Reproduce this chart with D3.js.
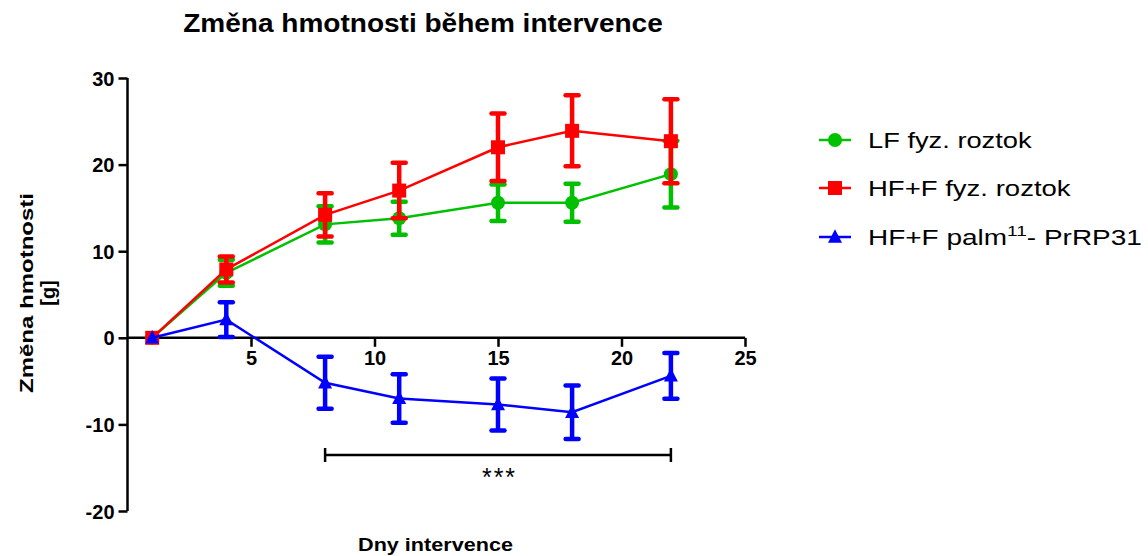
<!DOCTYPE html>
<html>
<head>
<meta charset="utf-8">
<script src="https://cdn.jsdelivr.net/npm/d3@7"></script>
<style>
  body { margin: 0; background: #fff; }
  svg text { font-family: "Liberation Sans", Arial, sans-serif; }
</style>
</head>
<body>
<div id="chart"></div>
<script>
// data
var days = [1, 4, 8, 11, 15, 18, 22];

var lfMean = [0, 7.5, 13.1, 13.8, 15.6, 15.6, 18.9];
var lfErr  = [0, 1.5, 2.1, 1.9, 2.1, 2.2, 3.85];

var hfMean = [0, 7.9, 14.2, 17.0, 22.0, 23.9, 22.7];
var hfErr  = [0, 1.5, 2.5, 3.2, 3.9, 4.1, 4.85];

var palmMean = [0, 2.1, -5.2, -7.0, -7.7, -8.6, -4.4];
var palmErr  = [0, 2.0, 3.0, 2.8, 3.0, 3.1, 2.65];

var xTicks = [5, 10, 15, 20, 25];
var yTicks = [-20, -10, 0, 10, 20, 30];

var seriesNames = ["LF fyz. roztok", "HF+F fyz. roztok", "HF+F palm"];
var seriesColors = ["#00c000", "#ff0000", "#0000ff"];
var seriesShapes = ["circle", "square", "triangle"];

var W = 1148, H = 556;

var svg = d3.select("#chart").append("svg")
    .attr("width", W).attr("height", H);

var x = d3.scaleLinear().domain([0, 25]).range([127.5, 745]);
var y = d3.scaleLinear().domain([-20, 30]).range([511, 78]);

// stretch a text horizontally so it spans the width it has in the picture
function fitWidth(t, target, ax) {
    var w = t.node().getBBox().width;
    var k = target / w;
    t.attr("transform", "translate(" + ax + ",0) scale(" + k + ",1) translate(" + (-ax) + ",0)");
}

// title
var title = svg.append("text")
    .attr("x", 423).attr("y", 32)
    .attr("text-anchor", "middle")
    .style("font-size", "25px").style("font-weight", "bold")
    .text("Změna hmotnosti během intervence");
fitWidth(title, 480, 423);

// y axis
var yAxis = svg.append("g")
    .attr("transform", "translate(" + x(0) + ",0)")
    .call(d3.axisLeft(y).tickValues(yTicks).tickSize(9).tickPadding(4).tickFormat(function (d) { return String(d); }));
yAxis.select(".domain").attr("stroke-width", 2.5).attr("d", "M0," + y(30) + "V" + y(-20));
yAxis.selectAll(".tick line").attr("stroke-width", 2.5);
yAxis.selectAll(".tick text")
    .style("font-family", "'Liberation Sans', Arial, sans-serif")
    .style("font-size", "20px").style("font-weight", "bold").attr("dy", "0.35em");

// x axis at y = 0
var xAxis = svg.append("g")
    .attr("transform", "translate(0," + y(0) + ")")
    .call(d3.axisBottom(x).tickValues(xTicks).tickSize(9).tickPadding(4));
xAxis.select(".domain").attr("stroke-width", 2.5).attr("d", "M" + x(0) + ",0H" + x(25));
xAxis.selectAll(".tick line").attr("stroke-width", 2.5);
xAxis.selectAll(".tick text")
    .style("font-family", "'Liberation Sans', Arial, sans-serif")
    .style("font-size", "20px").style("font-weight", "bold");

// axis titles
var xl = svg.append("text")
    .attr("x", 435.5).attr("y", 551)
    .attr("text-anchor", "middle")
    .style("font-size", "18px").style("font-weight", "bold")
    .text("Dny intervence");
fitWidth(xl, 155, 435.5);

svg.append("text")
    .attr("transform", "translate(33,293) rotate(-90)")
    .attr("text-anchor", "middle")
    .attr("textLength", 200).attr("lengthAdjust", "spacingAndGlyphs")
    .style("font-size", "19px").style("font-weight", "bold")
    .text("Změna hmotnosti");
svg.append("text")
    .attr("transform", "translate(55,293) rotate(-90)")
    .attr("text-anchor", "middle")
    .style("font-size", "20px").style("font-weight", "bold")
    .text("[g]");

function marker(g, shape, color, cx, cy, s) {
    if (shape === "circle") {
        g.append("circle").attr("cx", cx).attr("cy", cy).attr("r", s * 0.5).attr("fill", color);
    } else if (shape === "square") {
        g.append("rect").attr("x", cx - s / 2).attr("y", cy - s / 2)
            .attr("width", s).attr("height", s).attr("fill", color);
    } else {
        var h = s * 0.9;
        g.append("path")
            .attr("d", "M" + cx + "," + (cy - h * 0.62) + "L" + (cx + s / 2) + "," + (cy + h * 0.45) +
                "L" + (cx - s / 2) + "," + (cy + h * 0.45) + "Z")
            .attr("fill", color);
    }
}

var allMeans = [lfMean, hfMean, palmMean];
var allErrs = [lfErr, hfErr, palmErr];

var line = d3.line().x(function (d) { return x(d[0]); }).y(function (d) { return y(d[1]); });

allMeans.forEach(function (means, si) {
    var color = seriesColors[si];
    var errs = allErrs[si];
    var g = svg.append("g");
    var pts = days.map(function (d, i) { return [d, means[i]]; });

    // error bars
    days.forEach(function (d, i) {
        if (!errs[i]) return;
        var cx = x(d), top = y(means[i] + errs[i]), bot = y(means[i] - errs[i]);
        g.append("line").attr("x1", cx).attr("x2", cx).attr("y1", top).attr("y2", bot)
            .attr("stroke", color).attr("stroke-width", 4.5);
        [top, bot].forEach(function (yy) {
            g.append("line").attr("x1", cx - 6.5).attr("x2", cx + 6.5).attr("y1", yy).attr("y2", yy)
                .attr("stroke", color).attr("stroke-width", 4.5).attr("stroke-linecap", "round");
        });
    });

    g.append("path").datum(pts).attr("d", line)
        .attr("fill", "none").attr("stroke", color).attr("stroke-width", 2.5);

    pts.forEach(function (p) {
        marker(g, seriesShapes[si], color, x(p[0]), y(p[1]), 14);
    });
});

// significance bracket
var bY = 455;
var br = svg.append("g").attr("stroke", "#000").attr("stroke-width", 2.5);
br.append("line").attr("x1", x(8)).attr("x2", x(22)).attr("y1", bY).attr("y2", bY);
br.append("line").attr("x1", x(8)).attr("x2", x(8)).attr("y1", bY - 7).attr("y2", bY + 7);
br.append("line").attr("x1", x(22)).attr("x2", x(22)).attr("y1", bY - 7).attr("y2", bY + 7);
svg.append("text")
    .attr("x", (x(8) + x(22)) / 2 + 1.5).attr("y", 486)
    .attr("text-anchor", "middle")
    .style("font-size", "25px").style("letter-spacing", "2px")
    .text("***");

// legend
var legY = [140, 188, 237];
var legW = [165, 204, 274];
seriesNames.forEach(function (name, i) {
    var g = svg.append("g");
    g.append("line").attr("x1", 819).attr("x2", 851).attr("y1", legY[i]).attr("y2", legY[i])
        .attr("stroke", seriesColors[i]).attr("stroke-width", 2.5);
    marker(g, seriesShapes[i], seriesColors[i], 835, legY[i], 14);
    var t = g.append("text").attr("x", 868).attr("y", legY[i] + 8)
        .style("font-size", "22px").text(name);
    if (i === 2) {
        t.append("tspan").attr("dy", -9).style("font-size", "15px").text("11");
        t.append("tspan").attr("dy", 9).text("- PrRP31");
    }
    fitWidth(t, legW[i], 868);
});
</script>
</body>
</html>
